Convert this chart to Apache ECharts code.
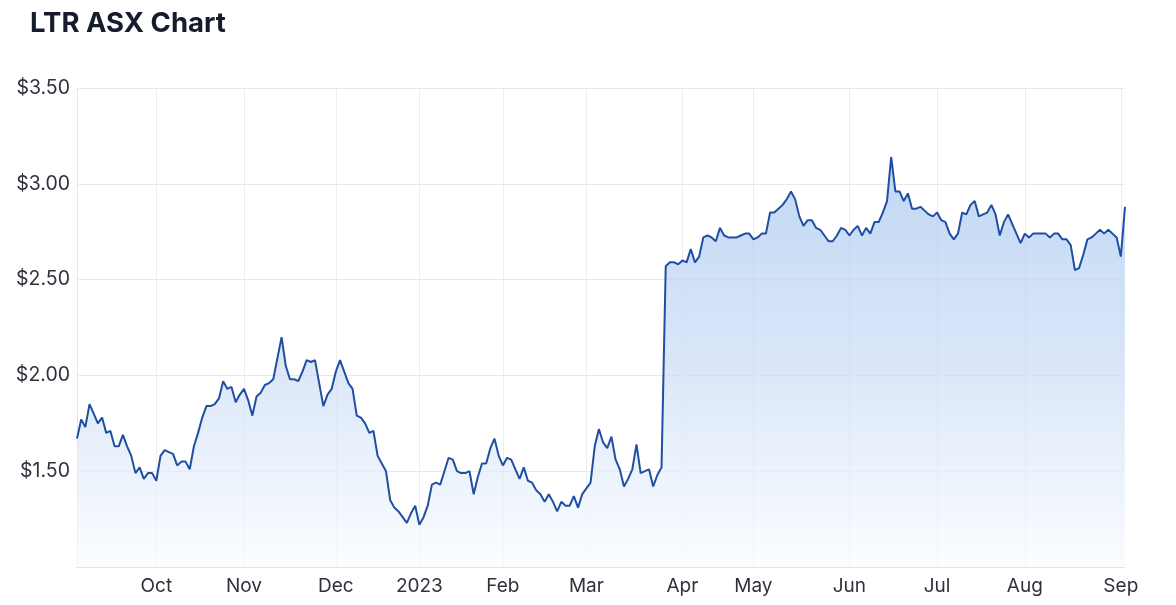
<!DOCTYPE html>
<html>
<head>
<meta charset="utf-8">
<script src="https://cdn.jsdelivr.net/npm/echarts@6/dist/echarts.min.js"></script>
<style>
html,body{margin:0;padding:0;background:#fff;}
#chart{width:1176px;height:605px;}
</style>
</head>
<body>
<div id="chart"></div>
<script>
// Trading period: 5 Sep 2022 – 4 Sep 2023 (ASX trading days)
const startDate = '2022-09-05';
const endDate = '2023-09-04';
const holidays = ['2022-09-22','2022-12-26','2022-12-27','2023-01-02','2023-01-26','2023-04-07','2023-04-10','2023-04-25','2023-06-12'];
const monthNames = ['2023','Feb','Mar','Apr','May','Jun','Jul','Aug','Sep','Oct','Nov','Dec'];

// Closing prices (AUD), one per trading day
const prices = [
1.67,1.77,1.73,1.85,1.80,1.75,1.78,1.70,1.71,1.63,
1.63,1.69,1.63,1.58,1.49,1.52,1.46,1.49,1.49,1.45,
1.58,1.61,1.60,1.59,1.53,1.55,1.55,1.51,1.63,1.70,
1.78,1.84,1.84,1.85,1.88,1.97,1.93,1.94,1.86,1.90,
1.93,1.87,1.79,1.89,1.91,1.95,1.96,1.98,2.09,2.20,
2.05,1.98,1.98,1.97,2.02,2.08,2.07,2.08,1.96,1.84,
1.90,1.93,2.02,2.08,2.02,1.96,1.93,1.79,1.78,1.75,
1.70,1.71,1.58,1.54,1.50,1.35,1.31,1.29,1.26,1.23,
1.28,1.32,1.22,1.26,1.32,1.43,1.44,1.43,1.50,1.57,
1.56,1.50,1.49,1.49,1.50,1.38,1.47,1.54,1.54,1.62,
1.67,1.58,1.53,1.57,1.56,1.51,1.46,1.52,1.45,1.44,
1.40,1.38,1.34,1.38,1.34,1.29,1.34,1.32,1.32,1.37,
1.31,1.38,1.41,1.44,1.63,1.72,1.65,1.62,1.68,1.56,
1.51,1.42,1.46,1.51,1.64,1.49,1.50,1.51,1.42,1.48,
1.52,2.57,2.59,2.59,2.58,2.60,2.59,2.66,2.59,2.62,
2.72,2.73,2.72,2.70,2.77,2.73,2.72,2.72,2.72,2.73,
2.74,2.74,2.71,2.72,2.74,2.74,2.85,2.85,2.87,2.89,
2.92,2.96,2.92,2.83,2.78,2.81,2.81,2.77,2.76,2.73,
2.70,2.70,2.73,2.77,2.76,2.73,2.76,2.78,2.73,2.77,
2.74,2.80,2.80,2.85,2.91,3.14,2.96,2.96,2.91,2.95,
2.87,2.87,2.88,2.86,2.84,2.83,2.85,2.81,2.80,2.74,
2.71,2.74,2.85,2.84,2.89,2.91,2.83,2.84,2.85,2.89,
2.84,2.73,2.80,2.84,2.79,2.74,2.69,2.74,2.72,2.74,
2.74,2.74,2.74,2.72,2.74,2.74,2.71,2.71,2.68,2.55,
2.56,2.63,2.71,2.72,2.74,2.76,2.74,2.76,2.74,2.72,
2.62,2.88
];

// Build trading-day categories
function fmt(d){
  const m = String(d.getUTCMonth()+1).padStart(2,'0');
  const day = String(d.getUTCDate()).padStart(2,'0');
  return d.getUTCFullYear()+'-'+m+'-'+day;
}
const dates = [];
for (let d = new Date(startDate+'T00:00:00Z'); fmt(d) <= endDate; d.setUTCDate(d.getUTCDate()+1)) {
  const wd = d.getUTCDay();
  const s = fmt(d);
  if (wd === 0 || wd === 6 || holidays.includes(s)) continue;
  dates.push(s);
}
// first trading day of each month (excluding the very first point)
const monthStart = new Set();
for (let i = 1; i < dates.length; i++) {
  if (dates[i].slice(0,7) !== dates[i-1].slice(0,7)) monthStart.add(i);
}
const isMonthStart = (idx) => monthStart.has(idx);

const chart = echarts.init(document.getElementById('chart'), null, {renderer:'canvas'});
chart.setOption({
  animation: false,
  backgroundColor: '#ffffff',
  title: {
    text: 'LTR ASX Chart',
    left: 25, top: 5,
    textStyle: {fontFamily: 'Inter', fontSize: 27.5, fontWeight: 700, color: '#161b2e'}
  },
  grid: {left: 77, right: 51, top: 88, bottom: 38, containLabel: false},
  xAxis: {
    type: 'category',
    data: dates,
    boundaryGap: false,
    axisLine: {show: true, lineStyle: {color: '#e3e3e3', width: 1}},
    axisTick: {show: false},
    axisLabel: {
      interval: (idx) => isMonthStart(idx),
      formatter: (v) => monthNames[parseInt(v.slice(5,7),10)-1],
      fontFamily: 'Inter', fontSize: 19, color: '#2f323c', margin: 10
    },
    splitLine: {show: true, interval: (idx) => isMonthStart(idx), lineStyle: {color: '#ececec', width: 1}}
  },
  yAxis: {
    type: 'value',
    min: 1, max: 3.5, interval: 0.5,
    axisLine: {show: true, lineStyle: {color: '#e6e6e6'}},
    axisTick: {show: false},
    axisLabel: {
      formatter: (v) => v === 1 ? '' : '$' + v.toFixed(2),
      fontFamily: 'Inter', fontSize: 19.5, color: '#2f323c', margin: 7
    },
    splitLine: {show: true, lineStyle: {color: '#e9e9e9', width: 1}}
  },
  series: [{
    type: 'line',
    data: prices,
    showSymbol: false,
    symbol: 'none',
    smooth: false,
    lineStyle: {color: '#1f4fa2', width: 2},
    areaStyle: {
      color: new echarts.graphic.LinearGradient(0, 0, 0, 1, [
        {offset: 0, color: '#a6c6f0'},
        {offset: 0.5, color: '#cadcf6'},
        {offset: 1, color: '#fafcff'}
      ])
    }
  }]
});
</script>
</body>
</html>
